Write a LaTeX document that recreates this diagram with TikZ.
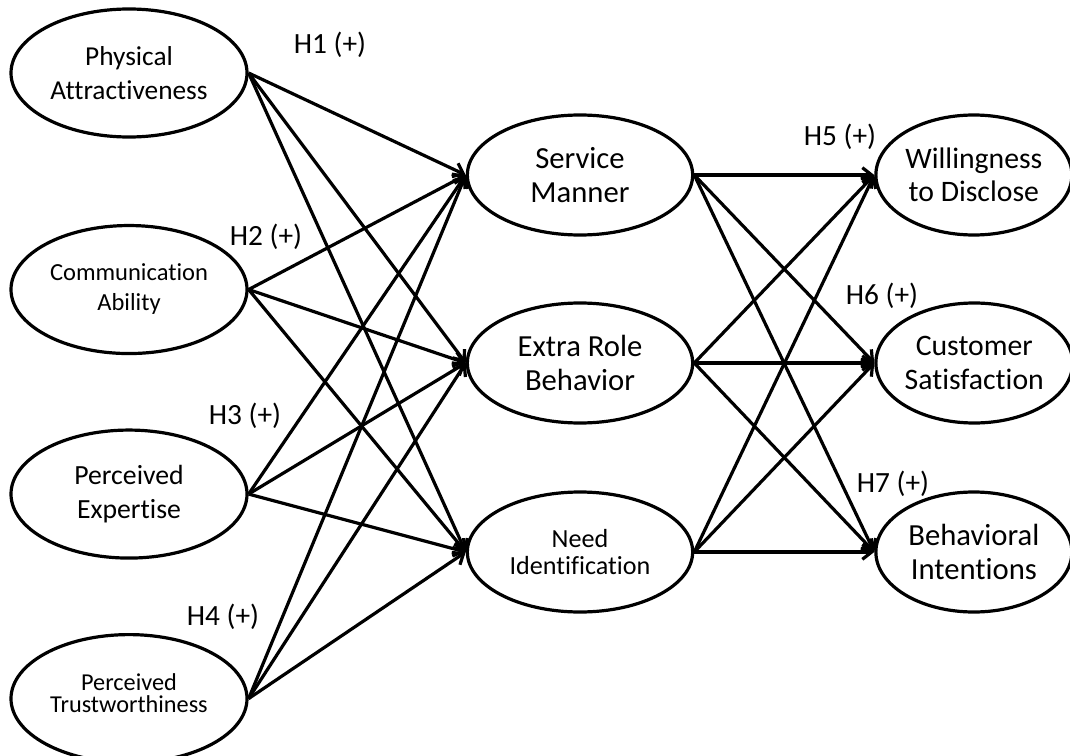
\documentclass[tikz,border=0pt]{standalone}
\usepackage{fontspec}
\setmainfont{Carlito}[Ligatures=NoCommon]
\usetikzlibrary{shapes.geometric, arrows.meta, positioning}

\begin{document}
\begin{tikzpicture}[x=0.75pt, y=-0.75pt,
        latent/.style={ellipse, draw, line width=2.4pt, align=center, inner sep=0pt},
        antecedent/.style={latent, minimum width=177pt, minimum height=96pt},
        mediator/.style={latent, minimum width=169pt, minimum height=90pt},
        outcome/.style={latent, minimum width=147pt, minimum height=90pt},
        hyp/.style={font=\fontsize{22}{24}\selectfont},
        link/.style={-{Straight Barb[length=7pt, width=11pt]}, line width=2.4pt}]

        \useasboundingbox (0,0) rectangle (1070,756);

        % antecedents
        \node[antecedent, font=\fontsize{20.5}{25.5}\selectfont] (pa) at (129,73) {Physical\\Attractiveness};
        \node[antecedent, font=\fontsize{18.4}{22.5}\selectfont, below=64pt of pa] (ca) {Communication\\Ability};
        \node[antecedent, font=\fontsize{20.8}{25.5}\selectfont, below=55pt of ca] (pe) {Perceived\\Expertise};
        \node[antecedent, font=\fontsize{18.2}{16.5}\selectfont, below=55pt of pe] (pt) {Perceived\\Trustworthiness\rule[-8pt]{0pt}{8pt}};

        % mediators
        \node[mediator, font=\fontsize{23}{26}\selectfont] (sm) at (580,175) {Service\\Manner};
        \node[mediator, font=\fontsize{23}{26}\selectfont] (erb) at (580,363) {Extra Role\\Behavior};
        \node[mediator, font=\fontsize{19.6}{20}\selectfont] (ni) at (580,552) {Need\\Identification};

        % outcomes
        \node[outcome, font=\fontsize{22.3}{25}\selectfont, right=135pt of sm] (wd) {Willingness\\to Disclose};
        \node[outcome, font=\fontsize{22.3}{25}\selectfont, right=135pt of erb] (cs) {Customer\\Satisfaction};
        \node[outcome, font=\fontsize{23}{26}\selectfont, right=135pt of ni] (bi) {Behavioral\\Intentions};

        % paths
        \foreach \a in {pa,ca,pe,pt}
            \foreach \b in {sm,erb,ni}
                \draw[link] (\a.east) -- (\b.west);
        \foreach \a in {sm,erb,ni}
            \foreach \b in {wd,cs,bi}
                \draw[link] (\a.east) -- (\b.west);

        % hypotheses
        \node[hyp] (h1) at (330,45) {H1 (+)};
        \node[hyp] (h2) at (266,237) {H2 (+)};
        \node[hyp] (h3) at (245,416) {H3 (+)};
        \node[hyp] (h4) at (223,617) {H4 (+)};
        \node[hyp] (h5) at (840,137) {H5 (+)};
        \node[hyp] (h6) at (882,296) {H6 (+)};
        \node[hyp] (h7) at (893,484) {H7 (+)};
    \end{tikzpicture}
\end{document}
